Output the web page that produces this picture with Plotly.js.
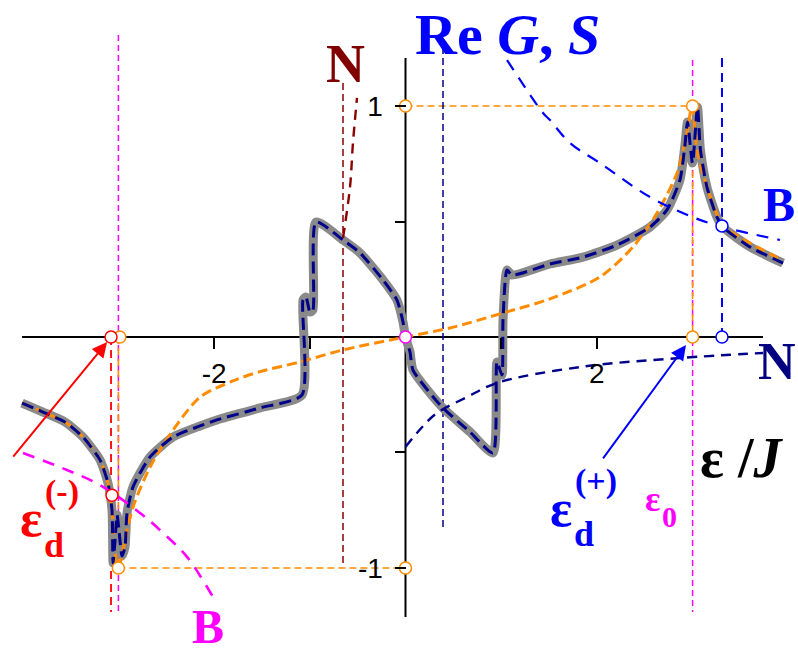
<!DOCTYPE html>
<html>
<head>
<meta charset="utf-8">
<script src="https://cdn.plot.ly/plotly-3.0.1.min.js"></script>
<style>html,body{margin:0;padding:0;background:#fff;}#chart{width:798px;height:656px;}</style>
</head>
<body>
<div id="chart"></div>
<script>
// ---- data (x in units of J) ----
const reG_x = [-4.007,-3.788,-3.558,-3.370,-3.192,-3.109,-3.067,-3.056,-3.035,-3.014,-2.994,-2.962,-2.931,-2.910,-2.847,-2.669,-2.429,-2.147,-1.970,-1.520,-1.082,-1.071,-1.040,-0.998,-0.967,-0.935,-0.653,-0.475,-0.235,-0.089,-0.026,0,0.047,0.078,0.381,0.674,0.914,0.956,1.008,1.019,1.061,1.113,1.510,1.855,2.210,2.555,2.732,2.868,2.920,2.947,2.999,3.051,3.082,3.150,3.255,3.318,3.600,3.945];
const reG_y = [-0.286,-0.325,-0.368,-0.433,-0.532,-0.632,-0.749,-0.978,-0.879,-0.771,-0.835,-0.948,-0.909,-0.762,-0.649,-0.519,-0.433,-0.385,-0.359,-0.307,-0.251,0.160,0.173,0.108,0.117,0.498,0.420,0.364,0.247,0.160,0.065,0,-0.065,-0.143,-0.303,-0.411,-0.502,-0.108,-0.165,0.074,0.290,0.268,0.316,0.346,0.398,0.476,0.550,0.680,0.831,0.931,0.753,0.996,0.810,0.649,0.519,0.476,0.390,0.320];

const reG0_x = [-4.007,-3.788,-3.558,-3.370,-3.192,-3.109,-3.067,-3.045,-3.004,-2.973,-2.931,-2.847,-2.669,-2.429,-2.147,-1.802,-1.520,-1.102,-0.653,0,0.465,1.019,1.510,2.032,2.377,2.628,2.837,2.941,2.993,3.051,3.150,3.255,3.318,3.600,3.935];
const reG0_y = [-0.286,-0.325,-0.368,-0.433,-0.532,-0.632,-0.749,-0.900,-1.0,-0.965,-0.879,-0.736,-0.563,-0.403,-0.260,-0.190,-0.150,-0.108,-0.056,0,0.039,0.104,0.165,0.260,0.390,0.537,0.710,0.883,1.0,0.797,0.649,0.532,0.481,0.407,0.333];

const nRight_x = [0,0.163,0.326,0.643,0.956,1.823,2.868,3.736];
const nRight_y = [-0.476,-0.395,-0.330,-0.260,-0.199,-0.130,-0.091,-0.069];

const nLeft_x = [-0.653,-0.580,-0.549,-0.507];
const nLeft_y = [0.429,0.649,0.840,1.035];

const bRight_x = [1.061,1.437,1.510,1.719,2.032,2.555,2.999,3.318,3.913];
const bRight_y = [1.199,0.970,0.939,0.840,0.753,0.606,0.519,0.476,0.420];

const bLeft_x = [-3.997,-3.537,-3.192,-2.774,-2.534,-2.283,-2.011];
const bLeft_y = [-0.502,-0.576,-0.641,-0.762,-0.848,-0.952,-1.126];

// reference levels
const eps0 = [-3.0, 3.0];
const epsdMinus = -3.077;
const epsdPlus = 3.307;
const nLeftPole = -0.653;
const nRightPole = 0.392;

// open-circle markers
const orangeDots_x = [-3.0, 0, 0, 3.0, 3.0, -2.985];
const orangeDots_y = [-1, -1, 1, 1, 0, 0];
const redDots_x = [-3.077, -3.067];
const redDots_y = [0, -0.685];
const blueDots_x = [3.307, 3.307];
const blueDots_y = [0, 0.481];
const magentaDots_x = [0];
const magentaDots_y = [0];

const xTicks = [-2,-1,1,2], xTickText = ['-2','','','2'];
const yTicks = [-1,-0.5,0.5,1], yTickText = ['-1','','','1'];

// ---- build ----
const NAVY = '#00008B', BLUE = '#0000FF', MAROON = '#8B0000', ORANGE = '#FF8C00', MAG = '#FF00FF', RED = '#FF0000';
function line(x, y, color, width, dash, smooth){
  const l = {color:color, width:width, dash:dash};
  if (smooth) { l.shape = 'spline'; l.smoothing = smooth; }
  return {type:'scatter', mode:'lines', x:x, y:y, line:l, hoverinfo:'skip'};
}
function dots(x, y, color){
  return {type:'scatter', mode:'markers', x:x, y:y, cliponaxis:false,
    marker:{symbol:'circle', size:12, color:'#fff', line:{color:color, width:1.5}}, hoverinfo:'skip'};
}
const traces = [
  line([eps0[0],eps0[0]],[1.307,-1.19], MAG, 1.5, '6px,4px'),
  line([eps0[1],eps0[1]],[1.199,-1.19], MAG, 1.5, '6px,4px'),
  line([epsdMinus,epsdMinus],[0,-1.19], RED, 1.8, '8px,5px'),
  line([eps0[0],eps0[0],0],[0,-1,-1], ORANGE, 1.6, '7px,4px'),
  line([0,eps0[1],eps0[1]],[1,1,0], ORANGE, 1.6, '7px,4px'),
  line([epsdPlus,epsdPlus],[1.208,0], BLUE, 2, '9px,6px'),
  line([nRightPole,nRightPole],[1.255,-0.823], NAVY, 1.5, '7px,4px'),
  line([nLeftPole,nLeftPole],[1.100,-0.978], MAROON, 1.5, '7px,4px'),
  line(reG_x, reG_y, '#8a8a8a', 9, 'solid', 0.6),
  line(reG0_x, reG0_y, ORANGE, 3, '10px,5px', 0.8),
  line(reG_x, reG_y, NAVY, 3, '12px,6px', 0.6),
  line(nRight_x, nRight_y, NAVY, 2.4, '10px,7px', 1),
  line(nLeft_x, nLeft_y, MAROON, 2.4, '10px,7px', 1),
  line(bRight_x, bRight_y, BLUE, 2.2, '12px,9px', 1),
  line(bLeft_x, bLeft_y, MAG, 2.6, '12px,9px', 1),
  dots(orangeDots_x, orangeDots_y, ORANGE),
  dots(redDots_x, redDots_y, RED),
  dots(blueDots_x, blueDots_y, BLUE),
  dots(magentaDots_x, magentaDots_y, MAG)
];

const W = 798, H = 656;
function txt(text, px, py, size, color, xa, ya){
  return {xref:'paper', yref:'paper', x:px/W, y:1-py/H, text:text, showarrow:false,
    xanchor:xa||'center', yanchor:ya||'middle', borderpad:0,
    font:{family:'Liberation Serif, Times New Roman, serif', size:size, color:color}};
}
const annotations = [
  txt('<b>Re <i>G</i>, <i>S</i></b>', 414, 35, 58, BLUE, 'left'),
  txt('<b>N</b>', 345, 64, 54, '#800000'),
  txt('<b>B</b>', 762, 204, 48, BLUE, 'left'),
  txt('<b>N</b>', 757, 361, 52, '#000080', 'left'),
  txt('<b>ε /<i>J</i></b>', 699, 458, 56, '#000', 'left'),
  txt('<b>ε</b>', 561, 508, 52, BLUE),
  txt('<b>(+)</b>', 596, 481, 34, BLUE),
  txt('<b>d</b>', 584, 534, 36, BLUE),
  txt('<b>ε</b>', 652, 499, 36, MAG),
  txt('<b>0</b>', 669, 516, 30, MAG),
  txt('<b>ε</b>', 31, 518, 52, RED),
  txt('<b>(-)</b>', 62, 492, 34, RED),
  txt('<b>d</b>', 54, 545, 36, RED),
  txt('<b>B</b>', 208, 626, 48, MAG),
  {xref:'x', yref:'y', axref:'x', ayref:'y', x:-3.118, y:-0.022, ax:-4.112, ay:-0.524,
   text:'', showarrow:true, arrowhead:2, arrowsize:1.5, arrowwidth:2, arrowcolor:RED},
  {xref:'x', yref:'y', axref:'x', ayref:'y', x:2.931, y:-0.035, ax:2.053, ay:-0.532,
   text:'', showarrow:true, arrowhead:2, arrowsize:1.5, arrowwidth:2, arrowcolor:BLUE}
];

const shapes = [
  {type:'line', xref:'x', yref:'y', x0:-4.007, x1:3.736, y0:0, y1:0, line:{color:'#000', width:2}, layer:'below'},
  {type:'line', xref:'x', yref:'y', x0:0, x1:0, y0:-1.212, y1:1.208, line:{color:'#000', width:2}, layer:'below'}
];

const layout = {
  width:W, height:H, margin:{l:0,r:0,t:0,b:0,pad:0},
  paper_bgcolor:'#fff', plot_bgcolor:'#fff', showlegend:false, hovermode:false,
  xaxis:{range:[-4.2372, 4.1014], anchor:'free', position:0.48628, showgrid:false, zeroline:false, showline:false,
    ticks:'outside', ticklen:11, tickwidth:2, tickcolor:'#000', tickvals:xTicks, ticktext:xTickText,
    ticklabelstandoff:0, tickfont:{family:'Liberation Sans, Arial, sans-serif', size:28, color:'#000'}, fixedrange:true},
  yaxis:{range:[-1.3810, 1.4589], anchor:'free', position:0.50815, showgrid:false, zeroline:false, showline:false,
    ticks:'outside', ticklen:11, tickwidth:2, tickcolor:'#000', tickvals:yTicks, ticktext:yTickText,
    ticklabelstandoff:6, tickfont:{family:'Liberation Sans, Arial, sans-serif', size:28, color:'#000'}, fixedrange:true},
  shapes:shapes, annotations:annotations
};
Plotly.newPlot('chart', traces, layout, {staticPlot:true, displayModeBar:false});
</script>
</body>
</html>
